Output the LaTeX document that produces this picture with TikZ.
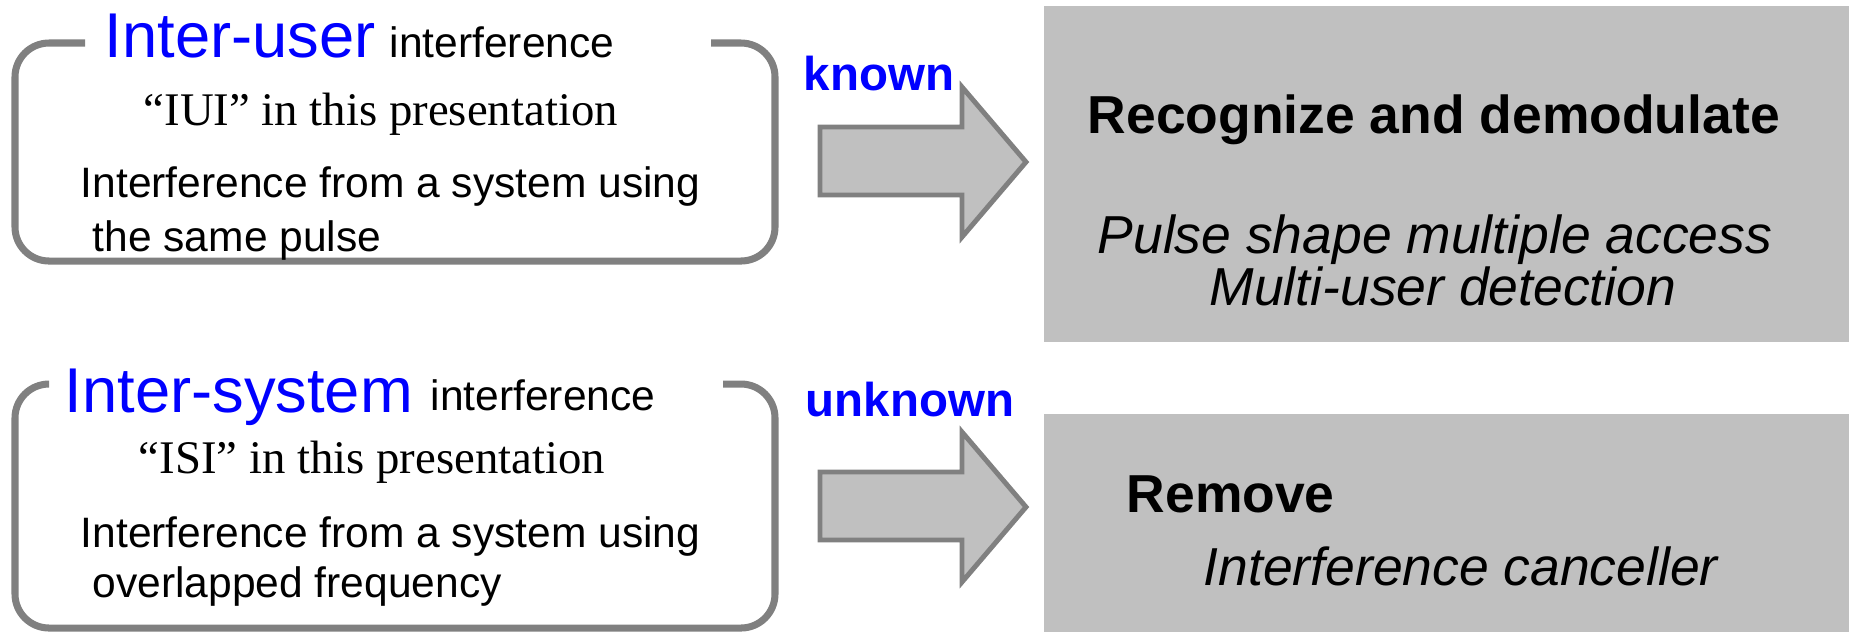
\documentclass[tikz,border=0pt]{standalone}
\usepackage{fontspec}
\setmainfont{Liberation Sans}
\newfontfamily\timesfont{Liberation Serif}
\usepackage{tikz}

\definecolor{framegray}{RGB}{128,128,128}
\definecolor{boxgray}{RGB}{192,192,192}
\definecolor{pureblue}{RGB}{0,0,255}

\begin{document}
\begin{tikzpicture}[%
  x=0.01cm, y=-0.01cm,
  txt/.style={anchor=base west, inner sep=0pt},
  body/.style={txt, font=\fontsize{12.1}{14}\selectfont},
  bigblue/.style={txt, text=pureblue, font=\fontsize{18}{21}\selectfont},
  abbr/.style={txt, font=\timesfont\fontsize{13.3}{15}\selectfont},
  lbl/.style={txt, text=pureblue, font=\fontsize{13.5}{16}\bfseries\selectfont},
  head/.style={txt, font=\fontsize{15.2}{18}\bfseries\selectfont},
  means/.style={txt, font=\fontsize{15.2}{18}\itshape\selectfont},
  frame/.style={draw=framegray, line width=2pt, rounded corners=0.34cm},
  blockarrow/.style={draw=framegray, fill=boxgray, line width=1.4pt}]

  \useasboundingbox (0,0) rectangle (1849,632);

  % gray result boxes
  \fill[boxgray] (1044,6) rectangle (1849,342);
  \fill[boxgray] (1044,414) rectangle (1849,632);

  % open frames round the two kinds of interference
  \draw[frame] (711,43) -- (775,43) -- (775,261) -- (15,261) -- (15,43) -- (85,43);
  \draw[frame] (723,384) -- (775,384) -- (775,628) -- (15,628) -- (15,384) -- (49,384);

  % block arrows
  \draw[blockarrow] (820,127) -- (962,127) -- (962,87) -- (1026,162)
    -- (962,237) -- (962,195) -- (820,195) -- cycle;
  \draw[blockarrow] (820,472) -- (962,472) -- (962,432) -- (1026,507)
    -- (962,582) -- (962,540) -- (820,540) -- cycle;

  % inter-user
  \node[bigblue] (iu-title) at (104,57) {Inter-user};
  \node[body] (iu-word) at (389,57) {interference};
  \node[abbr] (iu-abbr) at (143,125) {“IUI” in this presentation};
  \node[body] (iu-desc) at (80,197) {Interference from a system using};
  \node[body] (iu-desc2) at (92,251) {the same pulse};

  % inter-system
  \node[bigblue] (is-title) at (64,412) {Inter-system};
  \node[body] (is-word) at (430,410) {interference};
  \node[abbr] (is-abbr) at (138,473) {“ISI” in this presentation};
  \node[body] (is-desc) at (80,547) {Interference from a system using};
  \node[body] (is-desc2) at (92,597) {overlapped frequency};

  % arrow labels
  \node[lbl] (known) at (803,90) {known};
  \node[lbl] (unknown) at (805,416) {unknown};

  % what is done
  \node[head] (recog) at (1087,133) {Recognize and demodulate};
  \node[means] (psma) at (1097,253) {Pulse shape multiple access};
  \node[means] (mud) at (1209,305) {Multi-user detection};
  \node[head] (remove) at (1126,512) {Remove};
  \node[means] (canc) at (1203,585) {Interference canceller};
\end{tikzpicture}
\end{document}
